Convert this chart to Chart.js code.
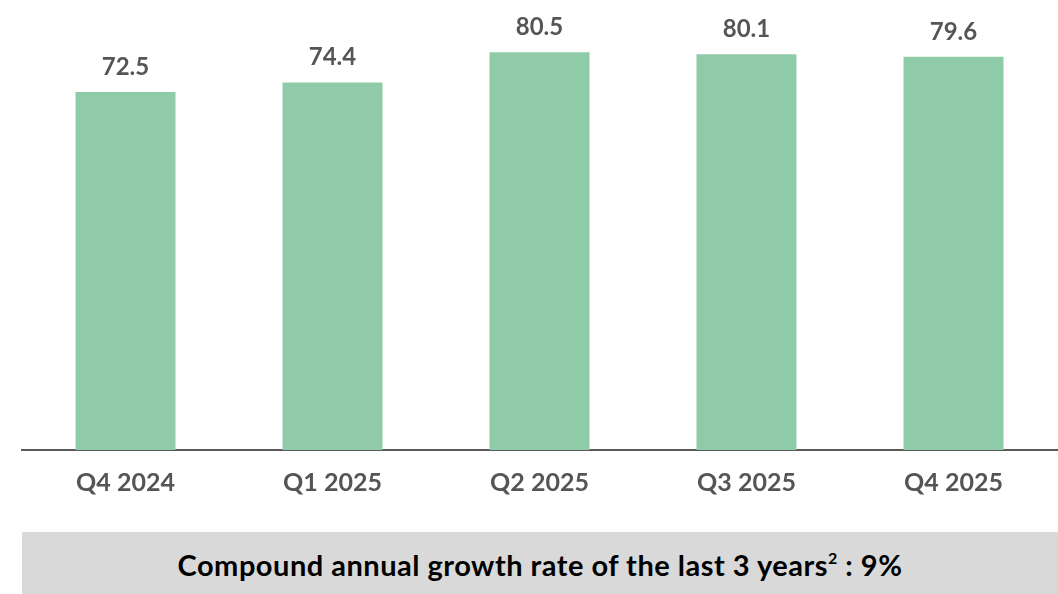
<!DOCTYPE html>
<html><head><meta charset="utf-8">
<script src="https://cdn.jsdelivr.net/npm/chart.js@4/dist/chart.umd.min.js"></script>
<style>
html,body{margin:0;padding:0;background:#fff;}
#wrap{position:relative;width:1058px;height:594px;overflow:hidden;}
#cw{position:absolute;left:0;top:0;width:1058px;height:510px;}
#box{position:absolute;left:22px;top:532px;width:1036px;height:62px;background:#d9d9d9;
 font-family:Lato,sans-serif;font-weight:700;font-size:29px;letter-spacing:0.5px;color:#000;text-align:center;line-height:66px;}
#box sup{font-size:16px;vertical-align:0;position:relative;top:-12px;}
</style></head>
<body><div id="wrap"><div id="cw"><canvas id="c"></canvas></div>
<div id="box">Compound annual growth rate of the last 3 years<sup>2</sup> : 9%</div></div>
<script>
const categories = ["Q4 2024","Q1 2025","Q2 2025","Q3 2025","Q4 2025"];
const values = [72.5, 74.4, 80.5, 80.1, 79.6];
const valueLabels = ["72.5","74.4","80.5","80.1","79.6"];

const labelPlugin = {
  id:'valLabels',
  afterDatasetsDraw(chart){
    const ctx = chart.ctx;
    const meta = chart.getDatasetMeta(0);
    ctx.save();
    ctx.font = '700 24px Lato, sans-serif';
    ctx.fillStyle = '#555555';
    ctx.textAlign = 'center';
    ctx.textBaseline = 'middle';
    meta.data.forEach((el,i)=>{
      ctx.fillText(valueLabels[i], el.x, el.y - 25);
    });
    ctx.restore();
  }
};

new Chart(document.getElementById('c'), {
  type:'bar',
  data:{labels:categories, datasets:[{data:values, backgroundColor:'#8fcaa9',
    categoryPercentage:1, barPercentage:0.483}]},
  options:{
    responsive:true, maintainAspectRatio:false, animation:false,
    layout:{padding:{left:22,right:1,top:0,bottom:0}},
    plugins:{legend:{display:false},tooltip:{enabled:false}},
    scales:{
      x:{grid:{display:false,drawTicks:false},
         border:{display:true,color:'#595959',width:2},
         ticks:{color:'#555555',font:{family:'Lato',weight:'700',size:25},padding:18},
         afterFit(s){s.height=60;}},
      y:{display:false,min:0,max:91.1}
    }
  },
  plugins:[labelPlugin]
});
</script></body></html>
